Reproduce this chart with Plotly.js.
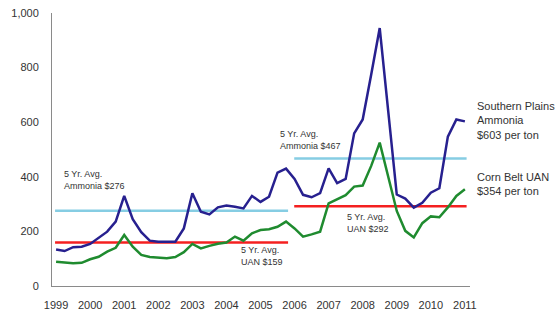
<!DOCTYPE html>
<html>
<head>
<meta charset="utf-8">
<script src="https://cdn.plot.ly/plotly-3.0.1.min.js"></script>
<style>html,body{margin:0;padding:0;background:#fff;}#chart{width:557px;height:315px;}</style>
</head>
<body>
<div id="chart"></div>
<script>
// Quarterly observations, 1999 Q1 .. 2011 Q1
const startYear = 1999;
const ammonia = [134,128,142,144,154,175,199,236,330,245,197,166,162,162,162,211,340,272,262,288,295,290,284,330,308,327,415,430,392,334,325,340,431,377,392,559,610,775,945,640,335,320,287,305,342,358,547,610,603];
const uan = [89,85,83,85,98,107,126,140,187,144,114,106,104,102,106,124,154,138,147,155,159,181,166,193,205,208,217,236,211,181,189,199,303,318,333,364,368,440,525,400,275,202,178,230,255,252,288,330,354];
const dates = ammonia.map((_, i) => startYear + i / 4);

// 5-year averages
const period1 = [1998.97, 2005.81];
const period2 = [2005.99, 2011.05];
const avgAmmonia1 = [276, 276];
const avgUAN1 = [159, 159];
const avgAmmonia2 = [467, 467];
const avgUAN2 = [292, 292];

const yearTicks = [1999,2000,2001,2002,2003,2004,2005,2006,2007,2008,2009,2010,2011];
const yTicks = [0,200,400,600,800,1000];
const yTickText = ['0','200','400','600','800','1,000'];

const navy = '#27208f', green = '#1f8b2f', sky = '#86cde3', red = '#f42020';
const font = 'Liberation Sans, Arial, sans-serif';

const traces = [
  {x: period1, y: avgAmmonia1, mode: 'lines', line: {color: sky, width: 2.5}},
  {x: period1, y: avgUAN1, mode: 'lines', line: {color: red, width: 2.5}},
  {x: period2, y: avgAmmonia2, mode: 'lines', line: {color: sky, width: 2.5}},
  {x: period2, y: avgUAN2, mode: 'lines', line: {color: red, width: 2.5}},
  {x: dates, y: uan, mode: 'lines', line: {color: green, width: 2.5}},
  {x: dates, y: ammonia, mode: 'lines', line: {color: navy, width: 2.5}}
];

const ann = (x, y, text, size, xref) => ({x, y, xref: xref || 'x', yref: 'y', text, showarrow: false,
  xanchor: 'left', yanchor: 'middle', align: 'left', font: {family: font, size, color: '#333'}});

const layout = {
  width: 557, height: 315,
  margin: {l: 52, r: 87, t: 13, b: 29},
  paper_bgcolor: '#fff', plot_bgcolor: '#fff',
  showlegend: false,
  hovermode: false,
  font: {family: font, size: 11, color: '#333'},
  xaxis: {range: [1998.88, 2011.15], tickvals: yearTicks, ticktext: yearTicks.map(String),
    showgrid: false, zeroline: false, showline: true, linecolor: '#8a8a8a', linewidth: 1,
    ticks: '', ticklabelstandoff: 9, tickfont: {family: font, size: 11, color: '#333'}},
  yaxis: {range: [0, 1000], tickvals: yTicks, ticktext: yTickText,
    showgrid: false, zeroline: false, showline: true, linecolor: '#8a8a8a', linewidth: 1,
    ticks: '', ticklabelstandoff: 10, tickfont: {family: font, size: 11, color: '#333'}},
  annotations: [
    ann(1999.18, 388, '5 Yr. Avg.<br>Ammonia $276', 9),
    ann(2004.38, 110, '5 Yr. Avg.<br>UAN $159', 9),
    ann(2005.52, 534, '5 Yr. Avg.<br>Ammonia $467', 9),
    ann(2007.48, 231, '5 Yr. Avg.<br>UAN $292', 9),
    ann(1.012, 606, 'Southern Plains<br>Ammonia<br>$603 per ton', 11, 'paper'),
    ann(1.012, 372, 'Corn Belt UAN<br>$354 per ton', 11, 'paper')
  ]
};

Plotly.newPlot('chart', traces, layout, {staticPlot: true, displayModeBar: false});
</script>
</body>
</html>
